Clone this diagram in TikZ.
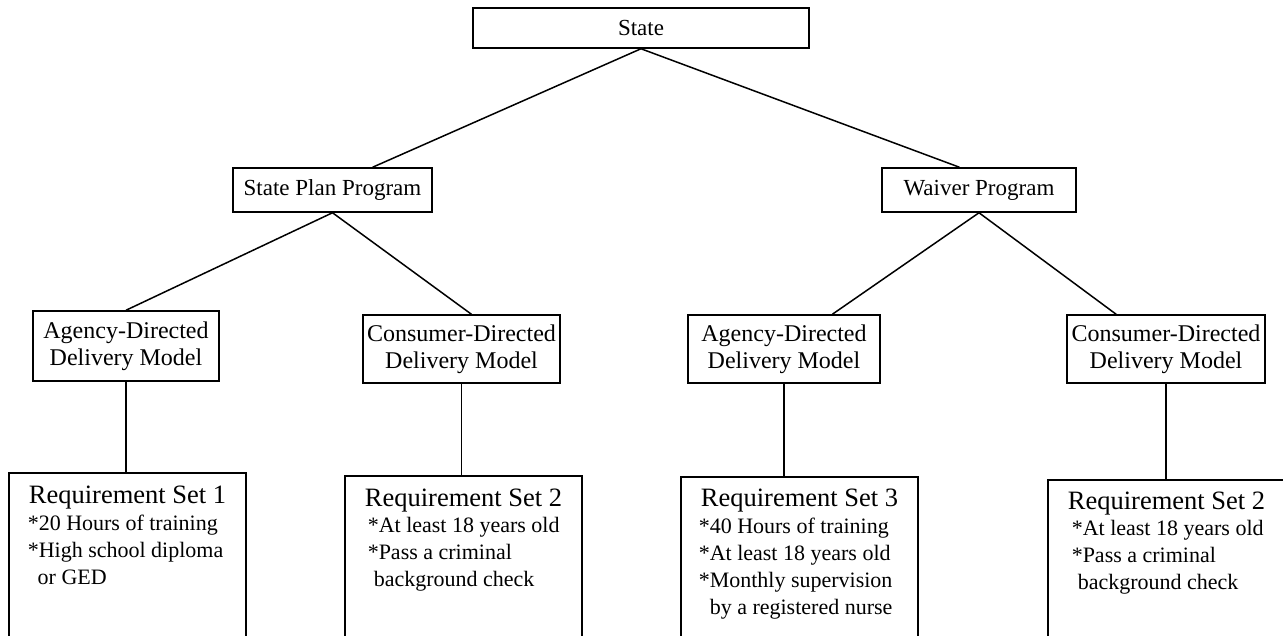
\documentclass[tikz,border=0pt]{standalone}
\usepackage{fontspec}
\setmainfont{Liberation Serif}
\usetikzlibrary{calc}
\begin{document}
\begin{tikzpicture}[x=1pt,y=-1pt,line width=1.5pt,
  box/.style={draw,line width=1.5pt,inner sep=0pt,align=center},
  lvl/.style={box,font=\fontsize{23}{27}\selectfont},
  mid/.style={box,font=\fontsize{24}{27}\selectfont},
  reqbox/.style={draw,line width=1.5pt,inner sep=0pt,minimum width=237,minimum height=175,anchor=north},
  rtitle/.style={inner sep=0pt,anchor=base,font=\fontsize{26.5}{30}\selectfont},
  rbody/.style={inner sep=0pt,anchor=base west,font=\fontsize{22}{27}\selectfont},
  link/.style={line width=1.5pt}]
\useasboundingbox (0,0) rectangle (1283,635);
% top levels
\node[lvl,minimum width=336,minimum height=40] (state) at (641,28) {State};
\node[lvl,minimum width=199,minimum height=44] (spp) at (332.5,190) {State Plan Program};
\node[lvl,minimum width=194,minimum height=44] (wp) at (979,190) {Waiver Program};
% delivery models
\node[mid,minimum width=186,minimum height=70] (ad1) at (126,346) {Agency-Directed\\Delivery Model};
\node[mid,minimum width=197,minimum height=68] (cd1) at (461.5,349) {Consumer-Directed\\Delivery Model};
\node[mid,minimum width=192,minimum height=68] (ad2) at (784,349) {Agency-Directed\\Delivery Model};
\node[mid,minimum width=198,minimum height=68] (cd2) at (1166,349) {Consumer-Directed\\Delivery Model};
% requirement boxes
\node[reqbox] (r1) at (127.5,472) {};
\node[reqbox] (r2) at (463.5,475) {};
\node[reqbox] (r3) at (799.5,476) {};
\node[reqbox] (r4) at (1166.5,479) {};
% requirement texts
\node[rtitle] (r1t) at (127.5,503) {Requirement Set 1};
\node[rbody] (r1a) at (27,530) {*20 Hours of training};
\node[rbody] (r1b) at (27,557) {*High school diploma};
\node[rbody] (r1c) at (37,584) {or GED};
\node[rtitle] (r2t) at (463.5,506) {Requirement Set 2};
\node[rbody] (r2a) at (367,532) {*At least 18 years old};
\node[rbody] (r2b) at (367,559) {*Pass a criminal};
\node[rbody] (r2c) at (373,586) {background check};
\node[rtitle] (r3t) at (799.5,506) {Requirement Set 3};
\node[rbody] (r3a) at (698,533) {*40 Hours of training};
\node[rbody] (r3b) at (698,560) {*At least 18 years old};
\node[rbody] (r3c) at (698,587) {*Monthly supervision};
\node[rbody] (r3d) at (709,614) {by a registered nurse};
\node[rtitle] (r4t) at (1166.5,509) {Requirement Set 2};
\node[rbody] (r4a) at (1071,535) {*At least 18 years old};
\node[rbody] (r4b) at (1071,562) {*Pass a criminal};
\node[rbody] (r4c) at (1077,589) {background check};
% connectors
\draw[link] (state.south) -- ($(spp.north west)!0.7!(spp.north east)$);
\draw[link] (state.south) -- ($(wp.north west)!0.4!(wp.north east)$);
\draw[link] (spp.south) -- (ad1.north);
\draw[link] (spp.south) -- ($(cd1.north west)!0.55!(cd1.north east)$);
\draw[link] (wp.south) -- ($(ad2.north west)!0.75!(ad2.north east)$);
\draw[link] (wp.south) -- ($(cd2.north west)!0.25!(cd2.north east)$);
\draw[link] (ad1.south) -- (ad1.south |- r1.north);
\draw[link] (cd1.south) -- (cd1.south |- r2.north);
\draw[link] (ad2.south) -- (ad2.south |- r3.north);
\draw[link] (cd2.south) -- (cd2.south |- r4.north);
\end{tikzpicture}
\end{document}
